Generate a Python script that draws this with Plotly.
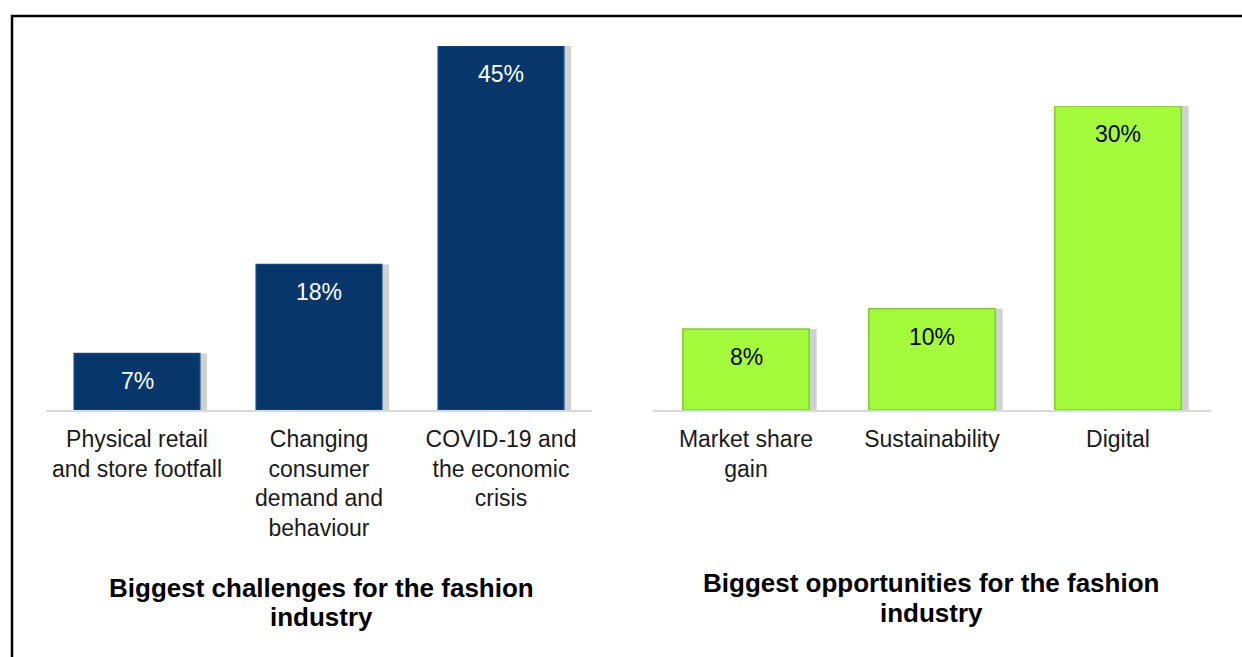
import plotly.graph_objects as go

# ---- data ----
challenge_labels = ["Physical retail<br>and store footfall",
                    "Changing<br>consumer<br>demand and<br>behaviour",
                    "COVID-19 and<br>the economic<br>crisis"]
challenge_values = [7, 18, 45]
opportunity_labels = ["Market share<br>gain", "Sustainability", "Digital"]
opportunity_values = [8, 10, 30]
left_title_lines = ["Biggest challenges for the fashion", "industry"]
right_title_lines = ["Biggest opportunities for the fashion", "industry"]

W, H = 1242, 657
BLUE = "#07366B"
GREEN = "#A4FB3C"
FONT = "Liberation Sans, Arial, sans-serif"

def px_y(p):
    return 1 - p / H

def px_x(p):
    return p / W

fig = go.Figure()

# shadows
fig.add_trace(go.Bar(x=challenge_labels, y=challenge_values, xaxis="x", yaxis="y",
                     marker=dict(color="rgba(0,0,0,0.18)", line=dict(width=0)),
                     width=0.69, offset=-0.345 + 0.04, hoverinfo="skip", showlegend=False))
fig.add_trace(go.Bar(x=opportunity_labels, y=opportunity_values, xaxis="x2", yaxis="y2",
                     marker=dict(color="rgba(0,0,0,0.18)", line=dict(width=0)),
                     width=0.68, offset=-0.34 + 0.04, hoverinfo="skip", showlegend=False))

fig.add_trace(go.Bar(x=challenge_labels, y=challenge_values, xaxis="x", yaxis="y",
                     marker=dict(color=BLUE, line=dict(color="#0B4A8C", width=1.5)),
                     width=0.69, offset=-0.345, showlegend=False))
fig.add_trace(go.Bar(x=opportunity_labels, y=opportunity_values, xaxis="x2", yaxis="y2",
                     marker=dict(color=GREEN, line=dict(color="#7ED12A", width=1.5)),
                     width=0.68, offset=-0.34, showlegend=False))

annotations = []
for lab, v in zip(challenge_labels, challenge_values):
    annotations.append(dict(x=lab, y=v, xref="x", yref="y", text=f"{v}%", showarrow=False,
                            yanchor="top", yshift=-13,
                            font=dict(family=FONT, size=23, color="white")))
for lab, v in zip(opportunity_labels, opportunity_values):
    annotations.append(dict(x=lab, y=v, xref="x2", yref="y2", text=f"{v}%", showarrow=False,
                            yanchor="top", yshift=-13,
                            font=dict(family=FONT, size=23, color="black")))

for lines, cx, ys in [(left_title_lines, 321, [588, 617]), (right_title_lines, 931, [583, 613])]:
    for line, yy in zip(lines, ys):
        annotations.append(dict(x=px_x(cx), y=px_y(yy), xref="paper", yref="paper",
                                text=f"<b>{line}</b>", showarrow=False,
                                xanchor="center", yanchor="middle",
                                font=dict(family=FONT, size=26, color="black")))

axis_common = dict(showgrid=False, zeroline=False, showline=True, linecolor="#D9D9D9", linewidth=2,
                   ticks="", tickfont=dict(family=FONT, size=23, color="#1A1A1A"), fixedrange=True)
yaxis_common = dict(showgrid=False, zeroline=False, showline=False, showticklabels=False, fixedrange=True)

fig.update_layout(
    width=W, height=H, margin=dict(l=0, r=0, t=0, b=0),
    paper_bgcolor="white", plot_bgcolor="white",
    barmode="overlay",
    xaxis=dict(domain=[px_x(46), px_x(592)], anchor="y", **axis_common),
    yaxis=dict(domain=[px_y(410), px_y(46)], range=[0, 45], anchor="x", **yaxis_common),
    xaxis2=dict(domain=[px_x(653), px_x(1211)], anchor="y2", **axis_common),
    yaxis2=dict(domain=[px_y(410), px_y(106)], range=[0, 30], anchor="x2", **yaxis_common),
    annotations=annotations,
    shapes=[dict(type="rect", xref="paper", yref="paper",
                 x0=px_x(12), x1=1.02, y0=-0.05, y1=px_y(16),
                 line=dict(color="black", width=2.5), fillcolor="rgba(0,0,0,0)")],
)
fig.update_xaxes(ticklabelstandoff=7)

fig.write_html("out.html")
